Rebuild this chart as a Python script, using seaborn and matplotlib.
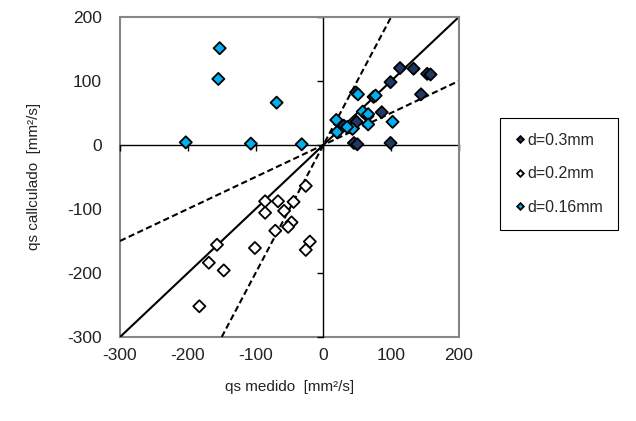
import pandas as pd
import matplotlib
matplotlib.use('Agg')
import matplotlib.pyplot as plt
import seaborn as sns

# measured vs calculated sediment transport, three grain sizes
x_03 = [113, 133, 153, 158, 99, 144, 86, 99, 45, 50, 42, 49, 74, 48, 30, 65]
y_03 = [120, 119, 111, 110, 98, 79, 51, 3, 3, 1, 26, 36, 75, 82, 30, 45]

x_02 = [-86, -67, -44, -26, -86, -58, -47, -52, -71, -101, -20, -26, -157, -169, -147, -183]
y_02 = [-88, -88, -89, -64, -106, -103, -121, -128, -134, -161, -151, -164, -156, -184, -196, -252]

x_016 = [-153, -155, -69, -203, -107, -32, 51, 77, 19, 58, 66, 66, 43, 20, 102, 35]
y_016 = [151, 103, 66, 4, 2, 1, 79, 77, 39, 52, 48, 32, 25, 20, 36, 28]

labels = ['d=0.3mm', 'd=0.2mm', 'd=0.16mm']
colors = ['#1F3864', '#FFFFFF', '#00B0F0']
slopes = [1, 2, 0.5]
ticks = [-300, -200, -100, 0, 100, 200]

df = pd.concat([
    pd.DataFrame({'medido': x_03, 'calculado': y_03, 'd': labels[0]}),
    pd.DataFrame({'medido': x_02, 'calculado': y_02, 'd': labels[1]}),
    pd.DataFrame({'medido': x_016, 'calculado': y_016, 'd': labels[2]}),
])

sns.set_style('white')
plt.rcParams['font.family'] = ['Liberation Sans', 'DejaVu Sans']
plt.rcParams['axes.unicode_minus'] = False

fig = plt.figure(figsize=(6.36, 4.21), dpi=100)
ax = fig.add_axes([0.1887, 0.1995, 0.533, 0.7605])

# reference lines 1:1, 2:1, 1:2
for s in slopes:
    ax.axline((0, 0), slope=s, color='black', lw=1.5,
              ls='-' if s == 1 else (0, (3, 1.6)), zorder=1)

sns.scatterplot(data=df, x='medido', y='calculado', hue='d', palette=colors,
                marker='D', s=38, edgecolor='black', linewidth=1.3, ax=ax, zorder=3)

ax.set_xlim(-300, 200)
ax.set_ylim(-300, 200)
ax.set_xticks(ticks)
ax.set_yticks(ticks)
ax.set_xlabel('')
ax.set_ylabel('')

# axes crossing at zero with small ticks
ax.spines['left'].set_position(('data', 0))
ax.spines['bottom'].set_position(('data', 0))
for sp in ['left', 'bottom']:
    ax.spines[sp].set_color('black')
    ax.spines[sp].set_linewidth(1.0)
    ax.spines[sp].set_zorder(2)
for sp in ['top', 'right']:
    ax.spines[sp].set_color('#868686')
    ax.spines[sp].set_linewidth(1.5)
ax.tick_params(direction='out', length=4, width=1, color='black',
               labelleft=False, labelbottom=False, left=True, bottom=True)

# outer frame with the tick labels
secx = ax.secondary_xaxis('bottom')
secx.set_xticks(ticks)
secx.tick_params(length=0, pad=8, labelsize=12.5, labelcolor='#222222')
secx.spines['bottom'].set_color('#868686')
secx.spines['bottom'].set_linewidth(1.5)
secx.set_xlabel('qs medido  [mm²/s]', fontsize=11, labelpad=12, color='#222222')

secy = ax.secondary_yaxis('left')
secy.set_yticks(ticks)
secy.tick_params(length=0, pad=13, labelsize=12.5, labelcolor='#222222')
secy.spines['left'].set_color('#868686')
secy.spines['left'].set_linewidth(1.5)
secy.set_ylabel('qs callculado  [mm²/s]', fontsize=11, labelpad=19, color='#222222')

sns.move_legend(ax, 'center left', bbox_to_anchor=(1.121, 0.51), title=None,
                frameon=True, fancybox=False, edgecolor='black', framealpha=1,
                markerscale=0.55, labelspacing=1.15, handlelength=0.6,
                handletextpad=0.15, borderpad=0.95, borderaxespad=0,
                fontsize=11.5)
ax.get_legend().get_frame().set_linewidth(0.8)

fig.savefig('out.png', dpi=100)
